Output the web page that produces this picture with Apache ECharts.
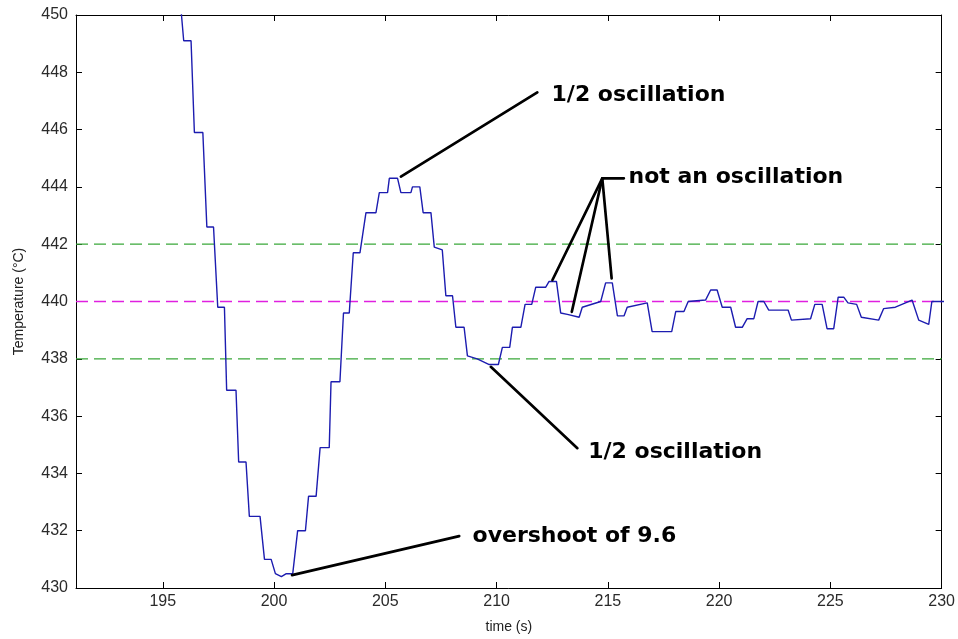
<!DOCTYPE html>
<html>
<head>
<meta charset="utf-8">
<title>Temperature response</title>
<script src="https://cdn.jsdelivr.net/npm/echarts@6/dist/echarts.min.js"></script>
<style>
  html, body { margin: 0; padding: 0; background: #ffffff; }
  #chart { width: 958px; height: 639px; }
</style>
</head>
<body>
<div id="chart"></div>
<script>
// Measured controller response: time (s) and temperature (°C) at each change of the trace
const time = [
  195.75, 195.94, 196.27, 196.42, 196.80, 196.98, 197.28, 197.47, 197.77, 197.87,
  198.29, 198.41, 198.74, 198.89, 199.37, 199.57, 199.87, 200.06, 200.33, 200.55,
  200.84, 201.06, 201.41, 201.55, 201.89, 202.07, 202.48, 202.56, 202.96, 203.12,
  203.38, 203.56, 203.86, 204.13, 204.58, 204.73, 205.10, 205.18, 205.55, 205.70,
  206.15, 206.22, 206.55, 206.70, 207.05, 207.20, 207.56, 207.72, 208.02, 208.17,
  208.54, 208.69, 209.13, 209.67, 210.08, 210.26, 210.59, 210.71, 211.09, 211.28,
  211.58, 211.76, 212.21, 212.36, 212.69, 212.88, 213.18, 213.71, 213.85, 214.68,
  214.90, 215.20, 215.43, 215.73, 215.87, 216.77, 216.99, 217.87, 218.05, 218.42,
  218.61, 219.39, 219.62, 219.91, 220.14, 220.52, 220.74, 221.04, 221.26, 221.56,
  221.75, 222.01, 222.23, 223.10, 223.25, 224.11, 224.30, 224.63, 224.85, 225.15,
  225.35, 225.60, 225.79, 226.18, 226.39, 227.17, 227.39, 227.92, 228.67, 228.97,
  229.42, 229.56, 230.20
];
const temperature = [
  450.8, 449.1, 449.1, 445.9, 445.9, 442.6, 442.6, 439.8, 439.8, 436.9,
  436.9, 434.4, 434.4, 432.5, 432.5, 431.0, 431.0, 430.5, 430.4, 430.5,
  430.5, 432.0, 432.0, 433.2, 433.2, 434.9, 434.9, 437.2, 437.2, 439.6,
  439.6, 441.7, 441.7, 443.1, 443.1, 443.8, 443.8, 444.3, 444.3, 443.8,
  443.8, 444.0, 444.0, 443.1, 443.1, 441.9, 441.8, 440.2, 440.2, 439.1,
  439.1, 438.1, 438.0, 437.8, 437.8, 438.4, 438.4, 439.1, 439.1, 439.9,
  439.9, 440.5, 440.5, 440.7, 440.7, 439.6, 439.55, 439.45, 439.8, 440.0,
  440.65, 440.65, 439.5, 439.5, 439.8, 439.95, 438.95, 438.95, 439.65, 439.65,
  440.0, 440.05, 440.4, 440.4, 439.8, 439.8, 439.1, 439.1, 439.4, 439.4,
  440.0, 440.0, 439.7, 439.7, 439.35, 439.4, 439.9, 439.9, 439.05, 439.05,
  440.15, 440.15, 439.95, 439.9, 439.45, 439.35, 439.75, 439.8, 440.05, 439.35,
  439.2, 440.0, 440.0
];

// Set point and the ±2 °C band around it
const setpoint = 440;
const bandLow = 438;
const bandHigh = 442;

// Axis ranges and tick labels
const timeRange = [191.1, 230];
const tempRange = [430, 450];
const timeTicks = [195, 200, 205, 210, 215, 220, 225, 230];
const tempTicks = [430, 432, 434, 436, 438, 440, 442, 444, 446, 448, 450];

// Overshoot below the set point, taken from the trace itself
const overshoot = setpoint - Math.min(...temperature);

// Callouts: text anchor and leader lines, in (time, temperature) units
const callouts = [
  { text: '1/2 oscillation', at: [212.47, 447.2],
    leaders: [[[205.70, 444.36], [211.83, 447.30]]] },
  { text: 'not an oscillation', at: [215.93, 444.33],
    leaders: [
      [[212.51, 440.75], [214.75, 444.30], [215.72, 444.30]],
      [[213.38, 439.64], [214.75, 444.30]],
      [[215.17, 440.81], [214.75, 444.30]]
    ] },
  { text: '1/2 oscillation', at: [214.12, 434.75],
    leaders: [[[209.74, 437.72], [213.63, 434.88]]] },
  { text: 'overshoot of ' + overshoot.toFixed(1), at: [208.92, 431.82],
    leaders: [[[200.81, 430.45], [208.32, 431.81]]] }
];

const chart = echarts.init(document.getElementById('chart'), null, { renderer: 'canvas' });

const tickFont = { fontFamily: 'Liberation Sans', fontSize: 16, color: '#2a2a2a' };
const axisLineStyle = { show: true, onZero: false, lineStyle: { color: '#000', width: 1 } };

function hLine(value, color) {
  return {
    type: 'line',
    xAxisIndex: 0, yAxisIndex: 0,
    data: [[timeRange[0], value], [timeRange[1], value]],
    symbol: 'none',
    silent: true,
    lineStyle: { color: color, width: 1.3, type: [12, 6], opacity: 1 },
    z: 2
  };
}

const leaderData = [];
callouts.forEach(c => c.leaders.forEach(path => leaderData.push({ coords: path })));

chart.setOption({
  animation: false,
  backgroundColor: '#ffffff',
  grid: { left: 76, right: 15, top: 15, bottom: 51 },
  xAxis: [
    {
      type: 'value', position: 'bottom',
      min: timeRange[0], max: timeRange[1],
      axisLine: axisLineStyle,
      axisTick: { show: true, inside: true, length: 6, customValues: timeTicks, lineStyle: { color: '#000' } },
      axisLabel: Object.assign({ show: true, margin: 6, customValues: timeTicks }, tickFont),
      splitLine: { show: false },
      name: 'time (s)', nameLocation: 'middle', nameGap: 32,
      nameTextStyle: { fontFamily: 'Liberation Sans', fontSize: 14, color: '#222' }
    },
    {
      type: 'value', position: 'top',
      min: timeRange[0], max: timeRange[1],
      axisLine: axisLineStyle,
      axisTick: { show: true, inside: true, length: 6, customValues: timeTicks, lineStyle: { color: '#000' } },
      axisLabel: { show: false },
      splitLine: { show: false }
    }
  ],
  yAxis: [
    {
      type: 'value', position: 'left',
      min: tempRange[0], max: tempRange[1], interval: 2,
      axisLine: axisLineStyle,
      axisTick: { show: true, inside: true, length: 6, customValues: tempTicks, lineStyle: { color: '#000' } },
      axisLabel: Object.assign({ show: true, margin: 8, customValues: tempTicks }, tickFont),
      splitLine: { show: false },
      name: 'Temperature (°C)', nameLocation: 'middle', nameGap: 50, nameRotate: 90,
      nameTextStyle: { fontFamily: 'Liberation Sans', fontSize: 14, color: '#222' }
    },
    {
      type: 'value', position: 'right',
      min: tempRange[0], max: tempRange[1], interval: 2,
      axisLine: axisLineStyle,
      axisTick: { show: true, inside: true, length: 6, customValues: tempTicks, lineStyle: { color: '#000' } },
      axisLabel: { show: false },
      splitLine: { show: false }
    }
  ],
  series: [
    hLine(bandHigh, '#3aa83a'),
    hLine(setpoint, '#e020e0'),
    hLine(bandLow, '#3aa83a'),
    {
      name: 'Temperature',
      type: 'line',
      xAxisIndex: 0, yAxisIndex: 0,
      data: time.map((t, i) => [t, temperature[i]]),
      symbol: 'none',
      clip: true,
      lineStyle: { color: '#1c1cb0', width: 1.4 },
      z: 3
    },
    {
      type: 'lines',
      coordinateSystem: 'cartesian2d',
      xAxisIndex: 0, yAxisIndex: 0,
      polyline: true,
      data: leaderData,
      lineStyle: { color: '#000', width: 2.7, opacity: 1, cap: 'round', join: 'round' },
      silent: true,
      z: 4
    },
    {
      type: 'scatter',
      xAxisIndex: 0, yAxisIndex: 0,
      symbolSize: 0,
      silent: true,
      itemStyle: { opacity: 1 },
      data: callouts.map(c => ({ value: c.at, name: c.text })),
      label: {
        show: true, position: 'right', distance: 0, opacity: 1,
        formatter: p => p.name,
        fontFamily: 'DejaVu Sans', fontWeight: 'bold', fontSize: 22, color: '#000'
      },
      z: 5
    }
  ]
});
</script>
</body>
</html>
